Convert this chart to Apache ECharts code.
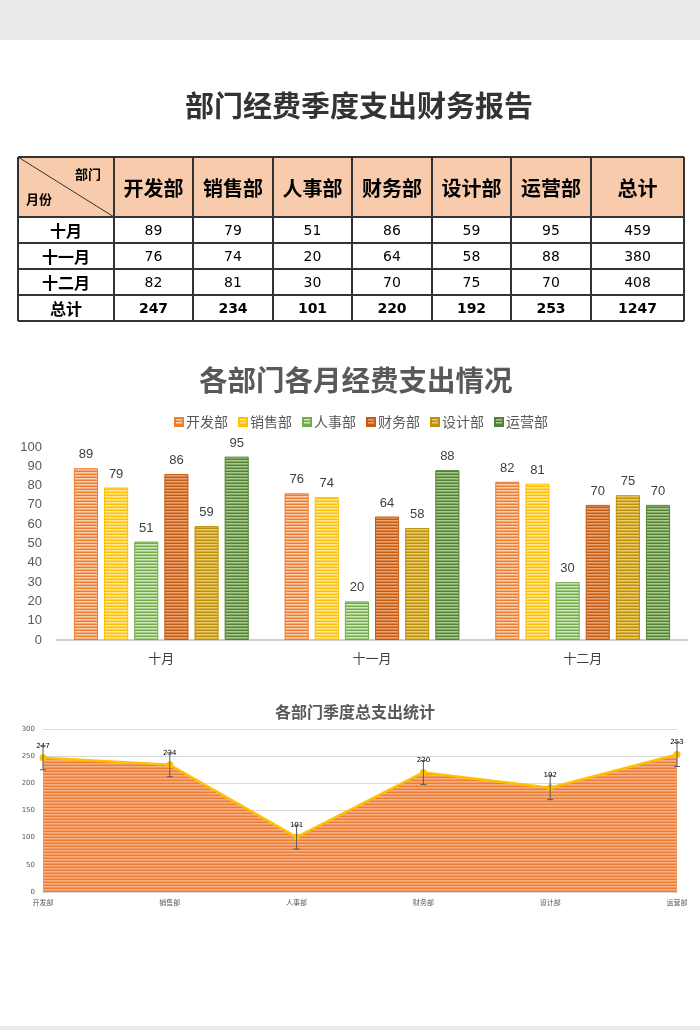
<!DOCTYPE html>
<html>
<head>
<meta charset="utf-8">
<script src="https://cdn.jsdelivr.net/npm/echarts@6/dist/echarts.min.js"></script>
<style>
html,body{margin:0;padding:0;background:#fff;}
#main{width:700px;height:1030px;}
</style>
</head>
<body>
<div id="main"></div>
<script>
// ---- data ----
const departments = ['开发部', '销售部', '人事部', '财务部', '设计部', '运营部'];
const months = ['十月', '十一月', '十二月'];
const octValues = [89, 79, 51, 86, 59, 95];
const novValues = [76, 74, 20, 64, 58, 88];
const decValues = [82, 81, 30, 70, 75, 70];
const deptTotals = [247, 234, 101, 220, 192, 253];
const monthTotals = [459, 380, 408];
const grandTotal = 1247;
const errorAmounts = [22, 22, 22, 22, 22, 22];
const barTicks = [0, 10, 20, 30, 40, 50, 60, 70, 80, 90, 100];
const areaTicks = [0, 50, 100, 150, 200, 250, 300];

// ---- styles ----
const CJK = '"Noto Sans CJK SC", "Microsoft YaHei", sans-serif';
const NUM = '"DejaVu Sans", "Noto Sans CJK SC", sans-serif';
const NUM2 = '"Liberation Sans", "Noto Sans CJK SC", sans-serif';
const palette = [
  ['#ed7d31', '#f9cfb0'],
  ['#ffc000', '#ffe699'],
  ['#70ad47', '#cfe6bf'],
  ['#c55a11', '#eaa474'],
  ['#bf9000', '#e8cb74'],
  ['#548235', '#a9c98f']
];
function makePattern(base, light) {
  const c = document.createElement('canvas');
  c.width = 4; c.height = 3;
  const ctx = c.getContext('2d');
  ctx.fillStyle = light; ctx.fillRect(0, 0, 4, 3);
  ctx.fillStyle = base; ctx.fillRect(0, 0, 4, 1);
  ctx.globalAlpha = 0.45; ctx.fillRect(0, 2, 4, 1);
  return { image: c, repeat: 'repeat' };
}

const chart = echarts.init(document.getElementById('main'), null, { renderer: 'canvas' });

// ---- table (graphic) ----
const colEdges = [18, 114, 193, 273, 352, 432, 511, 591, 684];
const rowEdges = [157, 217, 243, 269, 295, 321];
const tableEls = [];
tableEls.push({ type: 'rect', shape: { x: colEdges[0], y: rowEdges[0], width: colEdges[8] - colEdges[0], height: rowEdges[1] - rowEdges[0] }, style: { fill: '#f8cbad' } });
const headerTexts = departments.concat(['总计']);
const bodyRows = [octValues, novValues, decValues];
const rowLabels = months.concat(['总计']);
function cellText(text, ci, ri, size, bold, font) {
  tableEls.push({
    type: 'text',
    style: {
      text: String(text), x: (colEdges[ci] + colEdges[ci + 1]) / 2, y: (rowEdges[ri] + rowEdges[ri + 1]) / 2 + 1,
      textAlign: 'center', textVerticalAlign: 'middle', fontSize: size, fontWeight: bold ? 'bold' : 'normal',
      fontFamily: font, fill: '#000'
    }
  });
}
headerTexts.forEach((t, i) => cellText(t, i + 1, 0, 20, true, CJK));
rowLabels.forEach((t, i) => cellText(t, 0, i + 1, 16, true, CJK));
bodyRows.forEach((row, r) => {
  row.forEach((v, c) => cellText(v, c + 1, r + 1, 14, false, NUM));
  cellText(monthTotals[r], 7, r + 1, 14, false, NUM);
});
deptTotals.forEach((v, c) => cellText(v, c + 1, 4, 14, true, NUM));
cellText(grandTotal, 7, 4, 14, true, NUM);
// corner cell
tableEls.push({ type: 'line', shape: { x1: colEdges[0], y1: rowEdges[0], x2: colEdges[1], y2: rowEdges[1] }, style: { stroke: '#333', lineWidth: 1 } });
tableEls.push({ type: 'text', style: { text: '部门', x: 101, y: 174, textAlign: 'right', textVerticalAlign: 'middle', fontSize: 13, fontWeight: 'bold', fontFamily: CJK, fill: '#000' } });
tableEls.push({ type: 'text', style: { text: '月份', x: 26, y: 199, textAlign: 'left', textVerticalAlign: 'middle', fontSize: 13, fontWeight: 'bold', fontFamily: CJK, fill: '#000' } });
// grid lines
colEdges.forEach(x => tableEls.push({ type: 'line', shape: { x1: x, y1: rowEdges[0], x2: x, y2: rowEdges[5] }, style: { stroke: '#333', lineWidth: 2 } }));
rowEdges.forEach(y => tableEls.push({ type: 'line', shape: { x1: colEdges[0], y1: y, x2: colEdges[8], y2: y }, style: { stroke: '#333', lineWidth: 2 } }));

const bands = [
  { type: 'rect', shape: { x: 0, y: 0, width: 700, height: 40 }, style: { fill: '#ebebeb' }, z: -10 },
  { type: 'rect', shape: { x: 0, y: 1026, width: 700, height: 4 }, style: { fill: '#ebebeb' }, z: -10 }
];

// ---- bar series ----
const monthlyByDept = departments.map((d, i) => [octValues[i], novValues[i], decValues[i]]);
const barSeries = departments.map((d, i) => ({
  name: d,
  type: 'bar',
  xAxisIndex: 0, yAxisIndex: 0,
  data: monthlyByDept[i],
  barGap: '25%',
  barCategoryGap: '17%',
  itemStyle: { color: makePattern(palette[i][0], palette[i][1]), borderColor: palette[i][0], borderWidth: 1 },
  label: { show: true, position: 'top', distance: 7, fontSize: 13, color: '#404040', fontFamily: NUM2 }
}));

const option = {
  animation: false,
  backgroundColor: '#fff',
  title: [
    { text: '部门经费季度支出财务报告', left: 180, top: 86, textStyle: { fontSize: 29, fontWeight: 'bold', color: '#333', fontFamily: CJK } },
    { text: '各部门各月经费支出情况', left: 194, top: 361, textStyle: { fontSize: 28.5, fontWeight: 'bold', color: '#595959', fontFamily: CJK } },
    { text: '各部门季度总支出统计', left: 270, top: 699, textStyle: { fontSize: 16, fontWeight: 'bold', color: '#595959', fontFamily: CJK } }
  ],
  legend: {
    data: departments, top: 410, left: 169,
    itemWidth: 8, itemHeight: 8, itemGap: 10, icon: 'rect',
    textStyle: { fontSize: 14, color: '#595959', fontFamily: CJK, padding: [0, 0, 0, -2] }
  },
  grid: [
    { left: 56, right: 12, top: 447, height: 193 },
    { left: 43, right: 23, top: 729, height: 163 }
  ],
  xAxis: [
    { type: 'category', gridIndex: 0, data: months,
      axisLine: { lineStyle: { color: '#bfbfbf', width: 1.5 } }, axisTick: { show: false },
      axisLabel: { fontSize: 13, color: '#404040', margin: 12, fontFamily: CJK } },
    { type: 'category', gridIndex: 1, data: departments, boundaryGap: false,
      axisLine: { lineStyle: { color: '#d9d9d9' } }, axisTick: { show: false },
      axisLabel: { fontSize: 7, color: '#595959', margin: 7, fontFamily: CJK } }
  ],
  yAxis: [
    { type: 'value', gridIndex: 0, min: barTicks[0], max: barTicks[barTicks.length - 1], interval: barTicks[1] - barTicks[0],
      axisLine: { show: false }, axisTick: { show: false }, splitLine: { show: false },
      axisLabel: { fontSize: 13, color: '#595959', margin: 14, fontFamily: NUM2 } },
    { type: 'value', gridIndex: 1, min: areaTicks[0], max: areaTicks[areaTicks.length - 1], interval: areaTicks[1] - areaTicks[0],
      axisLine: { show: false }, axisTick: { show: false },
      splitLine: { lineStyle: { color: '#d9d9d9' } },
      axisLabel: { fontSize: 7, color: '#595959', margin: 8, fontFamily: NUM } }
  ],
  series: barSeries.concat([
    {
      name: '总支出', type: 'line', xAxisIndex: 1, yAxisIndex: 1,
      data: deptTotals,
      symbol: 'circle', symbolSize: 7,
      itemStyle: { color: '#ffc000' },
      lineStyle: { color: '#ffc000', width: 2.5 },
      areaStyle: { color: makePattern('#ed7d31', '#f6b088'), opacity: 1 },
      label: { show: true, position: 'top', distance: 5, fontSize: 7, color: '#000', fontFamily: NUM },
      z: 2
    },
    {
      name: '误差', type: 'custom', xAxisIndex: 1, yAxisIndex: 1,
      data: deptTotals.map((v, i) => [i, v - errorAmounts[i], v + errorAmounts[i]]),
      renderItem: function (params, api) {
        const lo = api.coord([api.value(0), api.value(1)]);
        const hi = api.coord([api.value(0), api.value(2)]);
        const cap = 3;
        const st = { stroke: '#595959', lineWidth: 1 };
        return { type: 'group', children: [
          { type: 'line', shape: { x1: lo[0], y1: lo[1], x2: hi[0], y2: hi[1] }, style: st },
          { type: 'line', shape: { x1: lo[0] - cap, y1: lo[1], x2: lo[0] + cap, y2: lo[1] }, style: st },
          { type: 'line', shape: { x1: hi[0] - cap, y1: hi[1], x2: hi[0] + cap, y2: hi[1] }, style: st }
        ] };
      },
      z: 3, silent: true
    }
  ]),
  graphic: bands.concat([{ type: 'group', children: tableEls }])
};
chart.setOption(option);
</script>
</body>
</html>
